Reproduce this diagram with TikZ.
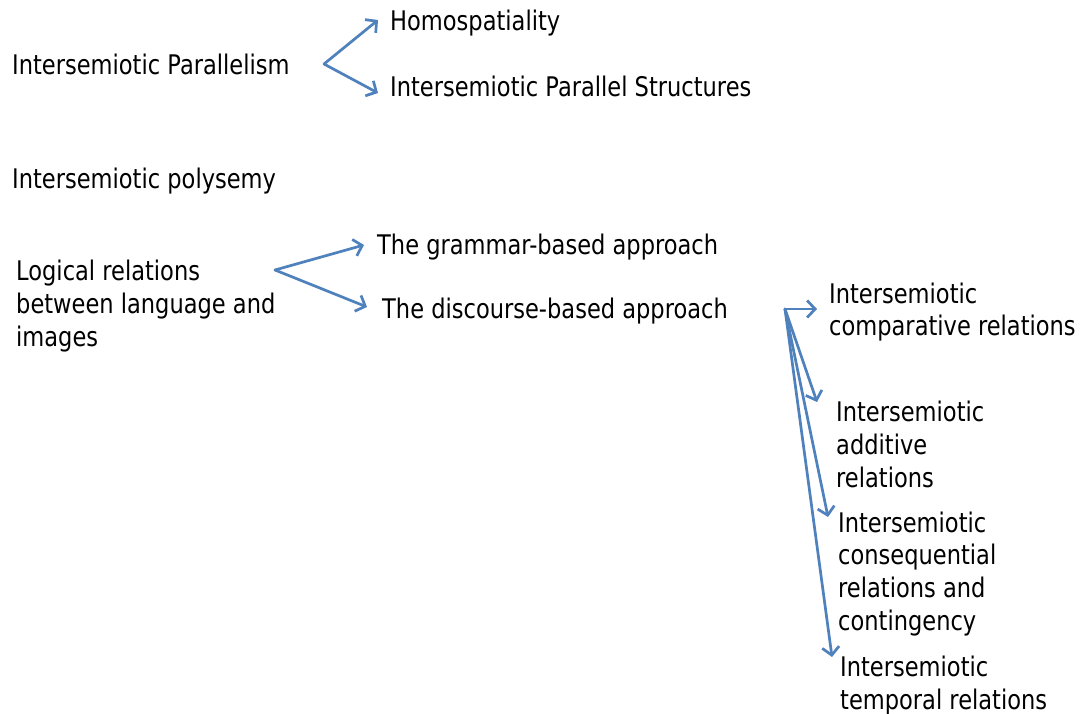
\documentclass[tikz,border=0pt]{standalone}
\usepackage{fontspec}
\setmainfont{DejaVu Sans}[FakeStretch=0.835]
\usetikzlibrary{arrows.meta}
\definecolor{arrowblue}{HTML}{4F81BD}
\tikzset{
  lbl/.style={anchor=base west, inner sep=0pt, align=left,
    font=\fontsize{27}{32.6}\selectfont, text=black},
  conn/.style={draw=arrowblue, line width=2.7pt, line cap=round, line join=round,
    -{Straight Barb[length=8pt,width=17pt,line width=2.7pt]}}
}
\begin{document}
\begin{tikzpicture}[x=1pt,y=-1pt]
\useasboundingbox[fill=white] (0,0) rectangle (1080,714);
% labels (multi-line nodes: base = last line baseline)
\node[lbl] (par) at (12,75) {Intersemiotic Parallelism};
\node[lbl] (homo) at (390,31) {Homospatiality};
\node[lbl] (ips) at (390,97) {Intersemiotic Parallel Structures};
\node[lbl] (poly) at (12,189) {Intersemiotic polysemy};
\node[lbl] (log) at (16,346) {Logical relations\\between language and\\images};
\node[lbl] (gram) at (377,255) {The grammar-based approach};
\node[lbl] (disc) at (382,319) {The discourse-based approach};
\node[lbl] (comp) at (829,336) {Intersemiotic\\comparative relations};
\node[lbl] (add) at (836,487) {Intersemiotic\\additive\\relations};
\node[lbl] (cons) at (838,630) {Intersemiotic\\consequential\\relations and\\contingency};
\node[lbl] (temp) at (840,709) {Intersemiotic\\temporal relations};
% connector points
\coordinate (o1) at (324,64);
\coordinate (t1) at (378,20);
\coordinate (t2) at (378,93);
\coordinate (o2) at (275,270);
\coordinate (t3) at (364,245);
\coordinate (t4) at (367,307);
\coordinate (o3) at (785,309);
\coordinate (t5) at (817,309);
\coordinate (t6) at (817,402);
\coordinate (t7) at (828,517);
\coordinate (t8) at (832,657);
% connectors
\draw[conn] (o1) -- (t1);
\draw[conn] (o1) -- (t2);
\draw[conn] (o2) -- (t3);
\draw[conn] (o2) -- (t4);
\draw[conn] (o3) -- (t5);
\draw[conn] (o3) -- (t6);
\draw[conn] (o3) -- (t7);
\draw[conn] (o3) -- (t8);
\end{tikzpicture}
\end{document}
